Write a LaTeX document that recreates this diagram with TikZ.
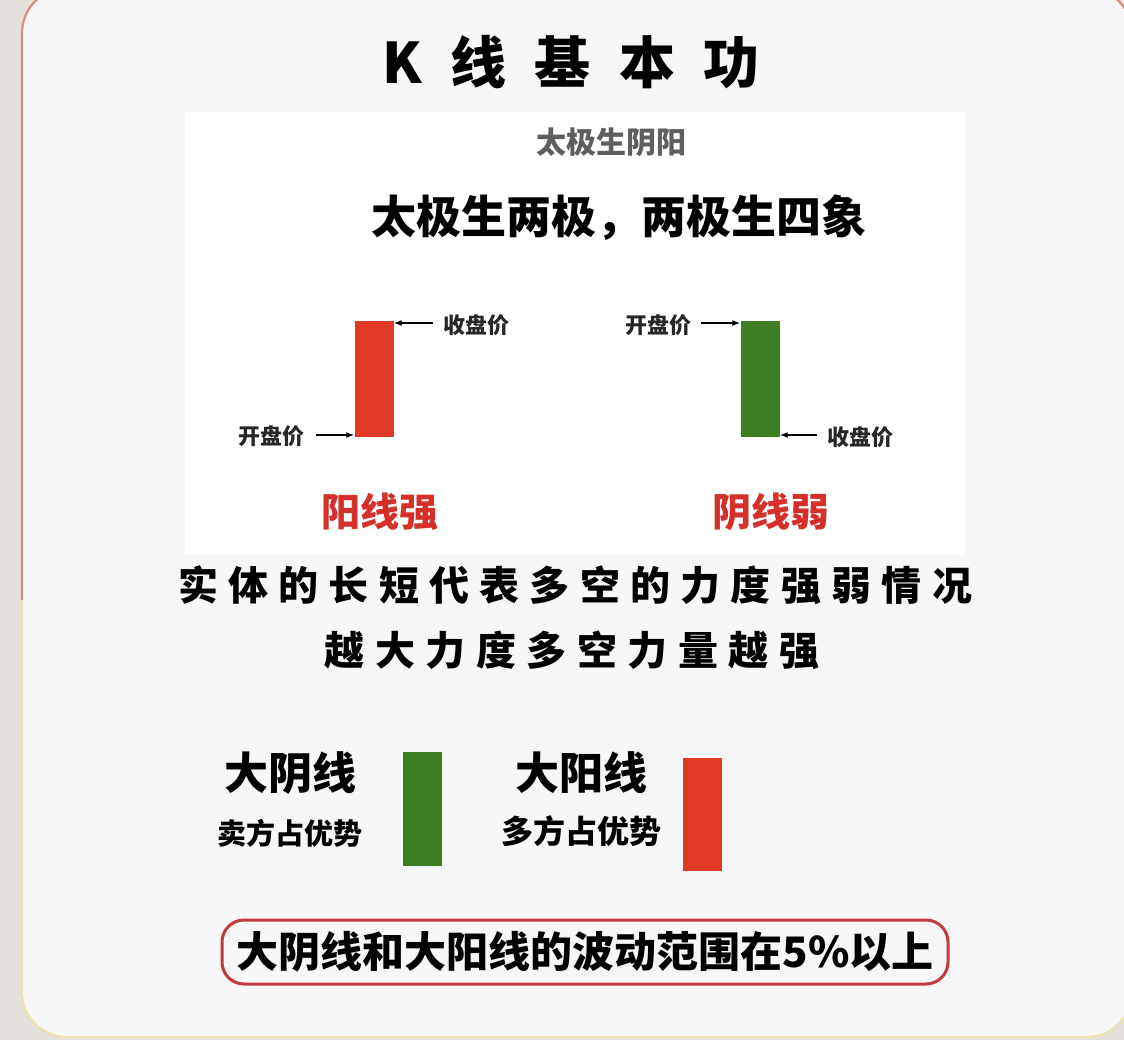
\documentclass[tikz,border=0pt]{standalone}
\usepackage{fontspec}
\newfontfamily\cjk{Noto Sans CJK SC}
\usetikzlibrary{arrows.meta}
\definecolor{bgc}{HTML}{E4E0DC}
\definecolor{cardc}{HTML}{F7F7FA}
\definecolor{redc}{HTML}{E03A26}
\definecolor{greenc}{HTML}{3F7D22}
\definecolor{rtext}{HTML}{D52F2A}
\definecolor{boxred}{HTML}{C23A3C}
\definecolor{bordr}{HTML}{D4907E}
\definecolor{bordy}{HTML}{EDE2B0}
\definecolor{graytext}{HTML}{5E5E5E}
\tikzset{
  txt/.style={inner sep=0pt, font=\cjk\bfseries},
  candle/.style={minimum width=39pt, inner sep=0pt, draw=none},
  ptr/.style={-{Latex[length=8pt,width=6pt]}, line width=1.3pt, black},
  lab/.style={txt, font=\cjk\bfseries\fontsize{22}{26}\selectfont, text=black!85},
}
\begin{document}
\begin{tikzpicture}[x=1pt,y=-1pt]
\useasboundingbox (0,0) rectangle (1124,1040);
% background and card
\fill[bgc] (0,0) rectangle (1124,1040);
\fill[cardc, rounded corners=45pt] (22,-12) rectangle (1132,1037);
\begin{scope}
  \clip (0,-20) rectangle (1140,600);
  \draw[bordr, line width=2.2pt, rounded corners=45pt] (22,-12) rectangle (1132,1037);
\end{scope}
\begin{scope}
  \clip (0,600) rectangle (1140,1060);
  \draw[bordy, line width=2.2pt, rounded corners=45pt] (22,-12) rectangle (1132,1037);
\end{scope}
% inner white panel
\fill[white] (185,112) rectangle (965,555);

% title
\node[txt, font=\cjk\bfseries\fontsize{56}{60}\selectfont] (title) at (571,62)
  {\makebox[377pt][s]{K\hfil 线\hfil 基\hfil 本\hfil 功}};

\node[txt, text=graytext, font=\cjk\bfseries\fontsize{30}{34}\selectfont] (sub) at (611,142) {太极生阴阳};
\node[txt, font=\cjk\bfseries\fontsize{45}{50}\selectfont] (head) at (619,218) {太极生两极，两极生四象};

% red candle (yang)
\node[candle, fill=redc, minimum height=115pt] (c1) at (374,379) {};
\node[lab, anchor=west] (c1close) at (443,325) {收盘价};
\node[lab, anchor=east] (c1open) at (305,436) {开盘价};
\coordinate (a1) at (433,323);
\coordinate (a2) at (316,435);
\draw[ptr] (a1) -- (a1 -| c1.east);
\draw[ptr] (a2) -- (a2 -| c1.west);

% green candle (yin)
\node[candle, fill=greenc, minimum height=115pt] (c2) at (760,379) {};
\node[lab, anchor=east] (c2open) at (692,325) {开盘价};
\node[lab, anchor=west] (c2close) at (827,437) {收盘价};
\coordinate (a3) at (701,323);
\coordinate (a4) at (817,435);
\draw[ptr] (a3) -- (a3 -| c2.west);
\draw[ptr] (a4) -- (a4 -| c2.east);

\node[txt, text=rtext, font=\cjk\bfseries\fontsize{39}{44}\selectfont] (yang) at (380,512) {阳线强};
\node[txt, text=rtext, font=\cjk\bfseries\fontsize{39}{44}\selectfont] (yin) at (771,512) {阴线弱};

% explanation lines
\node[txt, font=\cjk\bfseries\fontsize{40}{44}\selectfont] (line1) at (575,585)
  {\makebox[794pt][s]{实\hfil 体\hfil 的\hfil 长\hfil 短\hfil 代\hfil 表\hfil 多\hfil 空\hfil 的\hfil 力\hfil 度\hfil 强\hfil 弱\hfil 情\hfil 况}};
\node[txt, font=\cjk\bfseries\fontsize{40}{44}\selectfont] (line2) at (572,650)
  {\makebox[495pt][s]{越\hfil 大\hfil 力\hfil 度\hfil 多\hfil 空\hfil 力\hfil 量\hfil 越\hfil 强}};

% big candles
\node[txt, font=\cjk\bfseries\fontsize{44}{48}\selectfont] (dyin) at (290,773) {大阴线};
\node[txt, font=\cjk\bfseries\fontsize{29}{33}\selectfont] (sell) at (290,833) {卖方占优势};
\node[candle, fill=greenc, minimum height=114pt] (c3) at (422,809) {};
\node[txt, font=\cjk\bfseries\fontsize{44}{48}\selectfont] (dyang) at (581,773) {大阳线};
\node[txt, font=\cjk\bfseries\fontsize{32}{36}\selectfont] (buy) at (581,831) {多方占优势};
\node[candle, fill=redc, minimum height=113pt] (c4) at (702,814) {};

% bottom box
\node[draw=boxred, line width=3pt, rounded corners=22pt, minimum width=726pt, minimum height=64pt,
      inner sep=0pt, font=\cjk\bfseries\fontsize{42}{46}\selectfont] (note) at (585,952)
  {大阴线和大阳线的波动范围在5\%以上};
\end{tikzpicture}
\end{document}
